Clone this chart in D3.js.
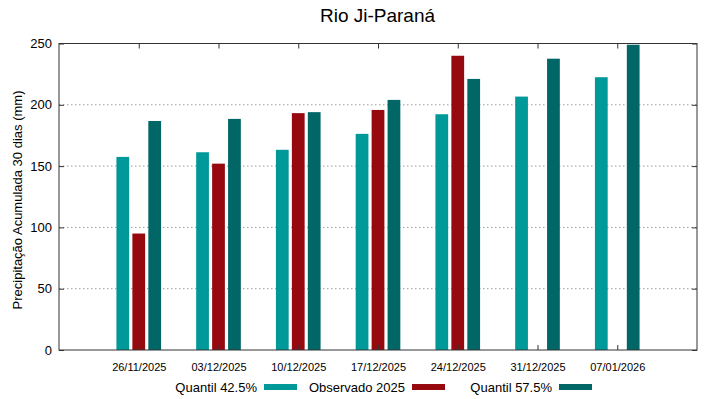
<!DOCTYPE html>
<html>
<head>
<meta charset="utf-8">
<script src="https://cdn.jsdelivr.net/npm/d3@7"></script>
<style>
  body { margin: 0; background: #fff; }
  svg { font-family: "Liberation Sans", Arial, sans-serif; }
  .grid line { stroke: #999; stroke-dasharray: 1.5 2.5; }
</style>
</head>
<body>
<script>
// Chart values
var dates = ["26/11/2025", "03/12/2025", "10/12/2025", "17/12/2025", "24/12/2025", "31/12/2025", "07/01/2026"];
var q425 = [157.5, 161.3, 163.3, 176.3, 192.3, 206.7, 222.5];
var observado = [95, 152, 193.2, 195.8, 240, null, null];
var q575 = [186.8, 188.5, 194, 204, 221.1, 237.6, 249];
var yTicks = [0, 50, 100, 150, 200, 250];

var seriesNames = ["Quantil 42.5%", "Observado 2025", "Quantil 57.5%"];
var seriesColors = ["#009999", "#960a0f", "#006666"];

drawChart();

function drawChart(){
  var width = 719,
      height = 399;
  var margin = {left: 59, right: 22, top: 43.5, bottom: 49};

  var svg = d3.select("body")
    .append("svg")
    .attr("width", width)
    .attr("height", height);

  // x in "group index" units, plot goes from -1 to 7
  var x = d3.scaleLinear()
    .domain([-1, 7])
    .range([margin.left, width - margin.right]);

  var y = d3.scaleLinear()
    .domain([0, 250])
    .range([height - margin.bottom, margin.top]);

  // dotted grid
  svg.append("g")
    .attr("class", "grid")
    .selectAll("line")
    .data(yTicks.filter(function(d){ return d > 0 && d < 250; }))
    .enter()
    .append("line")
    .attr("x1", x(-1))
    .attr("x2", x(7))
    .attr("y1", function(d){ return y(d); })
    .attr("y2", function(d){ return y(d); });

  // bars
  var barW = 0.16, offset = 0.2;
  var allSeries = [q425, observado, q575];
  allSeries.forEach(function(vals, s){
    svg.append("g")
      .selectAll("rect")
      .data(vals.map(function(v, i){ return {i: i, v: v}; }).filter(function(d){ return d.v != null; }))
      .enter()
      .append("rect")
      .attr("x", function(d){ return x(d.i + (s - 1) * offset - barW / 2); })
      .attr("width", x(barW) - x(0))
      .attr("y", function(d){ return y(d.v); })
      .attr("height", function(d){ return y(0) - y(d.v); })
      .attr("fill", seriesColors[s]);
  });

  // frame
  svg.append("rect")
    .attr("x", x(-1))
    .attr("y", y(250))
    .attr("width", x(7) - x(-1))
    .attr("height", y(0) - y(250))
    .attr("fill", "none")
    .attr("stroke", "#333")
    .attr("stroke-width", 1);

  // y ticks (left + mirrored right), inward
  var yAxisL = d3.axisLeft(y).tickValues(yTicks).tickSizeInner(-5).tickSizeOuter(0).tickPadding(7);
  var gL = svg.append("g").attr("transform", "translate(" + x(-1) + ",0)").call(yAxisL);
  gL.select(".domain").remove();
  gL.selectAll("text").style("font-size", "13px").attr("fill", "#000");
  gL.selectAll("line").attr("stroke", "#333");

  var yAxisR = d3.axisRight(y).tickValues(yTicks).tickSizeInner(-5).tickSizeOuter(0).tickFormat("");
  var gR = svg.append("g").attr("transform", "translate(" + x(7) + ",0)").call(yAxisR);
  gR.select(".domain").remove();
  gR.selectAll("line").attr("stroke", "#333");

  // x ticks (bottom + mirrored top), inward
  var idx = d3.range(dates.length);
  var xAxisB = d3.axisBottom(x).tickValues(idx).tickSizeInner(-5).tickSizeOuter(0)
    .tickPadding(13).tickFormat(function(d){ return dates[d]; });
  var gB = svg.append("g").attr("transform", "translate(0," + y(0) + ")").call(xAxisB);
  gB.select(".domain").remove();
  gB.selectAll("text").style("font-size", "11px").attr("fill", "#000");
  gB.selectAll("line").attr("stroke", "#333");

  var xAxisT = d3.axisTop(x).tickValues(idx).tickSizeInner(-5).tickSizeOuter(0).tickFormat("");
  var gT = svg.append("g").attr("transform", "translate(0," + y(250) + ")").call(xAxisT);
  gT.select(".domain").remove();
  gT.selectAll("line").attr("stroke", "#333");

  // title
  svg.append("text")
    .attr("x", 377.5)
    .attr("y", 22)
    .attr("text-anchor", "middle")
    .style("font-size", "19px")
    .text("Rio Ji-Paraná");

  // y label
  svg.append("text")
    .attr("transform", "translate(22,200) rotate(-90)")
    .attr("text-anchor", "middle")
    .style("font-size", "13px")
    .text("Precipitação Acumulada 30 dias (mm)");

  // legend
  var legTextEnd = [257, 405, 552];
  var legend = svg.append("g");
  seriesNames.forEach(function(name, s){
    legend.append("text")
      .attr("x", legTextEnd[s])
      .attr("y", 392)
      .attr("text-anchor", "end")
      .style("font-size", "13px")
      .text(name);
    legend.append("rect")
      .attr("x", legTextEnd[s] + 7)
      .attr("y", 384)
      .attr("width", 33)
      .attr("height", 6)
      .attr("fill", seriesColors[s]);
  });
}
</script>
</body>
</html>
